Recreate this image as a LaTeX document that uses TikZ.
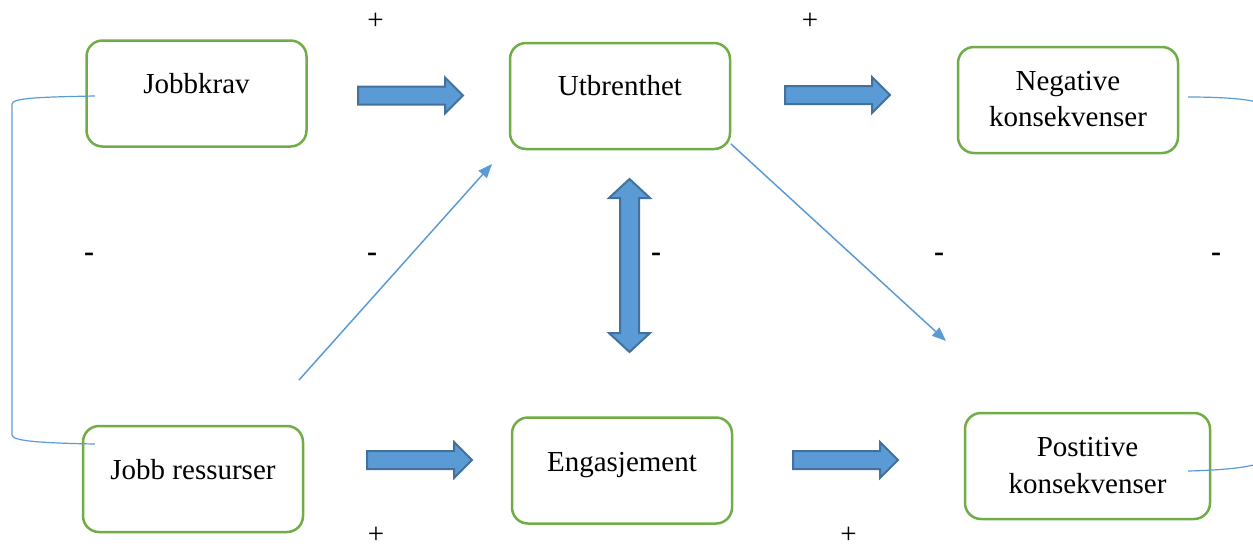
\documentclass[tikz,border=0pt]{standalone}
\usepackage{fontspec}
\setmainfont{Liberation Serif}
\usetikzlibrary{arrows.meta}
\definecolor{boxgreen}{HTML}{70AD47}
\definecolor{arrblue}{HTML}{5B9BD5}
\definecolor{arrborder}{HTML}{41719C}
\tikzset{
  box/.style={draw=boxgreen, line width=2.5pt, rounded corners=16pt, minimum width=220pt, minimum height=106pt, inner sep=0pt},
  lbl/.style={font=\fontsize{29}{36}\selectfont, anchor=base, inner sep=0pt},
  sign/.style={font=\fontsize{29}{34}\selectfont, inner sep=0pt},
  minus/.style={font=\fontsize{30}{34}\selectfont\bfseries, inner sep=0pt},
  blockarrow/.style={draw=arrborder, fill=arrblue, line width=2pt, line join=miter},
  thinarrow/.style={draw=arrblue, line width=1.5pt, -{Triangle[length=14pt,width=11pt]}},
  thinline/.style={draw=arrblue, line width=1.2pt}
}
\newcommand{\harrow}[3]{% x0, x1, y
  \draw[blockarrow] (#1,#3-9) -- (#2-18,#3-9) -- (#2-18,#3-18) -- (#2,#3) -- (#2-18,#3+18) -- (#2-18,#3+9) -- (#1,#3+9) -- cycle;}
\begin{document}
\begin{tikzpicture}[x=1pt,y=-1pt]
\useasboundingbox (0,0) rectangle (1253,550);
\clip (0,0) rectangle (1253,550);
% boxes
\node[box] (jk) at (196.5,93.5) {};
\node[box] (ut) at (620,96) {};
\node[box] (neg) at (1068,100) {};
\node[box] (jr) at (193,479) {};
\node[box] (en) at (622,470.5) {};
\node[box, minimum width=245pt] (pos) at (1087.5,466) {};
% texts
\node[lbl] (tjk) at (196.5,93) {Jobbkrav};
\node[lbl] (tut) at (620,95) {Utbrenthet};
\node[lbl] (tneg1) at (1068,90) {Negative};
\node[lbl] (tneg2) at (1068,126) {konsekvenser};
\node[lbl] (tjr) at (193,479) {Jobb ressurser};
\node[lbl] (ten) at (622,471) {Engasjement};
\node[lbl] (tpos1) at (1087.5,456) {Postitive};
\node[lbl] (tpos2) at (1087.5,493) {konsekvenser};
% block arrows
\harrow{358}{463}{95.5}
\harrow{785}{890}{95}
\harrow{367}{472}{460}
\harrow{793}{898}{460}
\draw[blockarrow] (629.5,179) -- (650,198) -- (639,198) -- (639,333) -- (650,333) -- (629.5,352) -- (609,333) -- (620,333) -- (620,198) -- (609,198) -- cycle;
% thin arrows
\coordinate (s1) at (299,380);
\coordinate (e1) at (492,164);
\coordinate (s2) at (731,144);
\coordinate (e2) at (946,341);
\draw[thinarrow] (s1) -- (e1);
\draw[thinarrow] (s2) -- (e2);
% bracket connectors
\coordinate (jkc) at (95,96);
\coordinate (jrc) at (95,444);
\draw[thinline] (jkc) .. controls (40,97) and (12,98) .. (12,104) -- (12,435) .. controls (12,441) and (40,443) .. (jrc);
\coordinate (negc) at (1188,97);
\coordinate (posc) at (1188,471);
\draw[thinline] (negc) .. controls (1230,97) and (1262,100) .. (1262,106) -- (1262,460) .. controls (1262,466) and (1230,470) .. (posc);
% signs
\node[sign] (p1) at (375.5,21) {+};
\node[sign] (p2) at (810,21) {+};
\node[sign] (p3) at (376,535.5) {+};
\node[sign] (p4) at (848.5,535.5) {+};
\node[minus] (m1) at (89,257) {-};
\node[minus] (m2) at (372,257) {-};
\node[minus] (m3) at (656,257) {-};
\node[minus] (m4) at (939,257) {-};
\node[minus] (m5) at (1216,257) {-};
\end{tikzpicture}
\end{document}
